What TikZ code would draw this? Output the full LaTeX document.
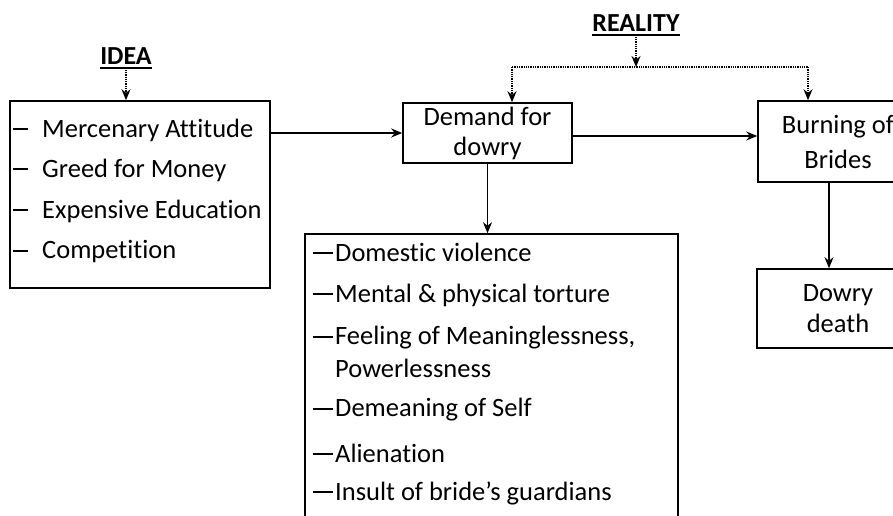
\documentclass[tikz,border=0pt]{standalone}
\usepackage{fontspec}
\setmainfont[Ligatures=NoCommon]{Carlito}
\usetikzlibrary{arrows.meta}
\newcommand\dsh[1]{\rule[7.3pt]{#1}{2pt}}
\begin{document}
\begin{tikzpicture}[x=1pt,y=-1pt,
  box/.style={draw,line width=1.6pt,inner sep=0pt},
  txt/.style={font=\fontsize{26.5}{30}\selectfont,inner sep=0pt,anchor=west},
  ctxt/.style={align=center},
  arr/.style={line width=1.5pt,-{Stealth[length=11pt,width=9pt]}},
  darr/.style={line width=1.3pt,densely dotted,-{Stealth[length=11pt,width=9pt]}},
  dline/.style={line width=1.3pt,densely dotted},
  uline/.style={line width=2pt},
  head/.style={font=\fontsize{26}{30}\selectfont\bfseries,inner sep=0pt}]
\useasboundingbox (0,0) rectangle (893,516);
\clip (0,0) rectangle (893,516);
% IDEA box
\node[box,minimum width=260pt,minimum height=187pt] (idbox) at (140,194.5) {};
\node[txt] (i1) at (13,130) {\dsh{15pt}\hspace{14pt}Mercenary Attitude};
\node[txt] (i2) at (13,170) {\dsh{15pt}\hspace{14pt}Greed for Money};
\node[txt] (i3) at (13,211) {\dsh{15pt}\hspace{14pt}Expensive Education};
\node[txt] (i4) at (13,252) {\dsh{15pt}\hspace{14pt}Competition};
\node[head] (idea) at (126,56) {IDEA};
\draw[uline] ([yshift=-3pt]idea.south west) -- ([yshift=-3pt]idea.south east);
\draw[darr] ([yshift=-5pt]idea.south) -- (idea.south |- idbox.north);
% Demand box
\node[box,ctxt,minimum width=169pt,minimum height=60pt,font=\fontsize{26.5}{30}\selectfont] (dem) at (487.5,133) {Demand for\\dowry};
% Burning box
\node[box,ctxt,minimum width=160pt,minimum height=81pt,font=\fontsize{26.5}{35}\selectfont] (burn) at (838,141.5) {Burning of\\Brides};
% Dowry death box
\node[box,ctxt,minimum width=162pt,minimum height=79pt,font=\fontsize{26.5}{31}\selectfont] (dd) at (838,308.5) {Dowry\\death};
% List box
\node[box,minimum width=373pt,minimum height=300pt] (list) at (491.5,384) {};
\node[txt] (l1) at (313,252) {\dsh{20pt}\hspace{2pt}Domestic violence};
\node[txt] (l2) at (313,295) {\dsh{20pt}\hspace{2pt}Mental \& physical torture};
\node[txt] (l3) at (313,338) {\dsh{20pt}\hspace{2pt}Feeling of Meaninglessness,};
\node[txt] (l4) at (335,368) {Powerlessness};
\node[txt] (l5) at (313,410) {\dsh{20pt}\hspace{2pt}Demeaning of Self};
\node[txt] (l6) at (313,453) {\dsh{20pt}\hspace{2pt}Alienation};
\node[txt] (l7) at (313,493) {\dsh{20pt}\hspace{2pt}Insult of bride’s guardians};
% REALITY
\node[head] (real) at (636,23) {REALITY};
\draw[uline] ([yshift=-3pt]real.south west) -- ([yshift=-3pt]real.south east);
\coordinate (rm) at (636,67);
\coordinate (rl) at (512,67);
\coordinate (rr) at (808,67);
\draw[darr] ([yshift=-5pt]real.south) -- (rm);
\draw[dline] (rl) -- (rr);
\draw[darr] (rl) -- (rl |- dem.north);
\draw[darr] (rr) -- (rr |- burn.north);
% connectors
\draw[arr] (dem.west -| idbox.east) -- (dem.west);
\draw[arr] ([yshift=-3pt]dem.east) -- ([yshift=-3pt]dem.east -| burn.west);
\draw[arr] (dem.south) -- (dem.south |- list.north);
\coordinate (bx) at (829,0);
\draw[arr] (bx |- burn.south) -- (bx |- dd.north);
\end{tikzpicture}
\end{document}
